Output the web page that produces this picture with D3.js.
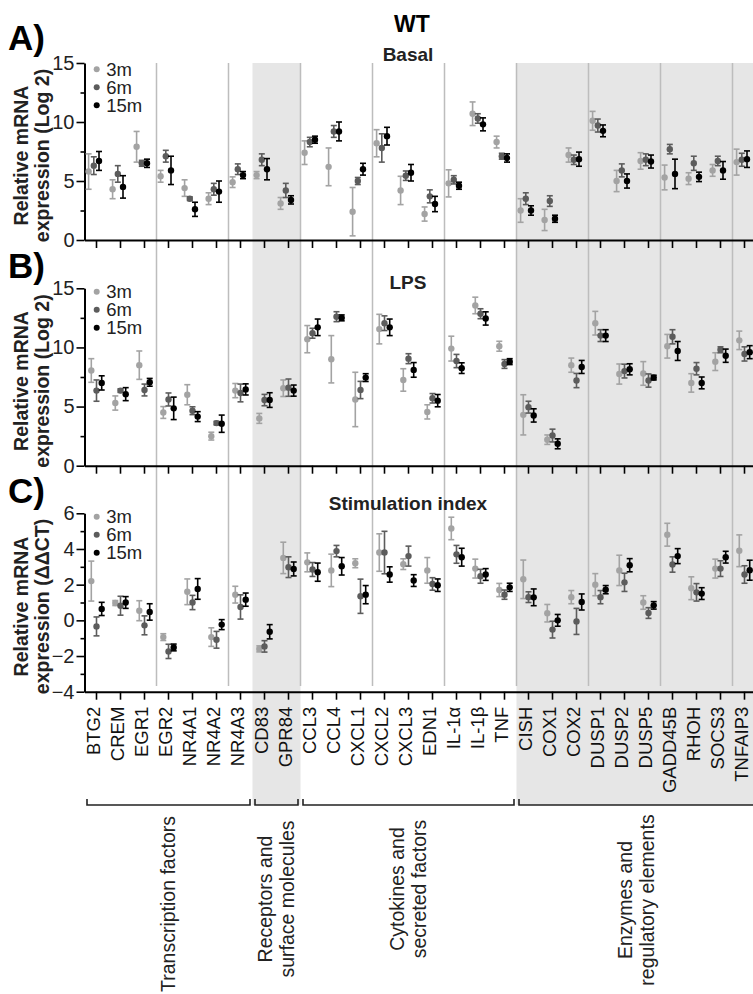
<!DOCTYPE html>
<html>
<head>
<meta charset="utf-8">
<script src="https://cdn.jsdelivr.net/npm/d3@7"></script>
<style>
    body { margin: 0; background: #fff; }
    text { font-family: "Liberation Sans", Arial, sans-serif; }
</style>
</head>
<body>
<div class="chart-container"></div>
<script>
// genes on the x axis
const genes = ["BTG2", "CREM", "EGR1", "EGR2", "NR4A1", "NR4A2", "NR4A3", "CD83", "GPR84",
    "CCL3", "CCL4", "CXCL1", "CXCL2", "CXCL3", "EDN1", "IL-1α", "IL-1β", "TNF",
    "CISH", "COX1", "COX2", "DUSP1", "DUSP2", "DUSP5", "GADD45B", "RHOH", "SOCS3", "TNFAIP3"];
const timepoints = ["3m", "6m", "15m"];

// A) Basal
const basal3m = [5.8, 4.3, 7.9, 5.4, 4.4, 3.5, 4.9, 5.5, 3.1, 7.4, 6.2, 2.4, 8.2, 4.2, 2.2, 4.8, 10.7, 8.3, 2.5, 1.7, 7.2, 10.1, 5.0, 6.7, 5.3, 5.2, 5.9, 6.6];
const basal3mErr = [1.5, 0.8, 1.3, 0.5, 0.7, 0.5, 0.45, 0.3, 0.5, 1.0, 1.6, 2.05, 1.15, 1.2, 0.6, 1.15, 1.0, 0.5, 1.0, 0.9, 0.6, 0.8, 0.9, 0.7, 1.05, 0.5, 0.5, 1.1];
const basal6m = [6.3, 5.6, 6.5, 7.1, 3.5, 4.3, 6.0, 6.8, 4.2, 8.3, 9.2, 5.0, 7.8, 5.45, 3.7, 5.1, 10.3, 7.1, 3.5, 3.3, 6.8, 9.7, 5.9, 6.8, 7.7, 6.5, 6.7, 6.8];
const basal6mErr = [0.75, 0.7, 0.25, 0.5, 0.15, 0.5, 0.45, 0.5, 0.6, 0.4, 0.5, 0.3, 1.2, 0.4, 0.55, 0.35, 0.4, 0.25, 0.5, 0.45, 0.4, 0.55, 0.55, 0.5, 0.4, 0.6, 0.4, 0.55];
const basal15m = [6.7, 4.5, 6.5, 5.9, 2.6, 4.1, 5.5, 6.0, 3.4, 8.5, 9.2, 6.0, 8.8, 5.7, 3.05, 4.6, 9.8, 6.95, 2.5, 1.8, 6.85, 9.25, 5.0, 6.65, 5.6, 5.35, 5.9, 6.85];
const basal15mErr = [0.8, 0.95, 0.35, 1.2, 0.6, 0.9, 0.3, 0.9, 0.35, 0.3, 0.8, 0.5, 0.75, 0.7, 0.65, 0.3, 0.55, 0.35, 0.4, 0.3, 0.6, 0.5, 0.6, 0.55, 1.25, 0.4, 0.75, 0.7];

// B) LPS
const lps3m = [8.05, 5.3, 8.5, 4.5, 6.0, 2.5, 6.35, 4.0, 6.55, 10.7, 9.0, 5.6, 11.55, 7.25, 4.55, 9.9, 13.55, 10.1, 4.3, 2.2, 8.5, 12.05, 7.75, 7.8, 10.1, 7.0, 8.8, 10.6];
const lps3mErr = [1.0, 0.6, 1.2, 0.5, 0.85, 0.33, 0.6, 0.42, 0.7, 1.15, 2.0, 2.3, 1.25, 0.95, 0.6, 1.05, 0.7, 0.42, 1.7, 0.4, 0.6, 1.0, 0.85, 1.0, 1.0, 0.78, 0.75, 0.78];
const lps6m = [6.35, 6.35, 6.4, 5.6, 4.65, 3.6, 6.15, 5.55, 6.6, 11.2, 12.6, 6.4, 12.05, 9.05, 5.7, 8.85, 12.85, 8.6, 4.95, 2.55, 7.2, 11.0, 8.0, 7.2, 10.9, 8.2, 9.8, 9.45];
const lps6mErr = [0.9, 0.15, 0.5, 0.55, 0.33, 0.15, 0.75, 0.48, 0.73, 0.42, 0.42, 0.73, 0.62, 0.42, 0.4, 0.56, 0.42, 0.37, 0.5, 0.54, 0.6, 0.5, 0.58, 0.56, 0.6, 0.52, 0.25, 0.6];
const lps15m = [7.0, 6.05, 7.05, 4.85, 4.15, 3.55, 6.45, 5.55, 6.35, 11.7, 12.5, 7.45, 11.7, 8.1, 5.5, 8.25, 12.45, 8.8, 4.25, 1.85, 8.35, 11.0, 8.15, 7.45, 9.7, 7.0, 9.3, 9.6];
const lps15mErr = [0.6, 0.55, 0.33, 0.95, 0.42, 0.73, 0.47, 0.62, 0.47, 0.7, 0.25, 0.33, 0.7, 0.62, 0.52, 0.45, 0.56, 0.25, 0.56, 0.42, 0.55, 0.5, 0.47, 0.2, 0.8, 0.5, 0.56, 0.55];

// C) Stimulation index
const stim3m = [2.2, 0.97, 0.54, -0.94, 1.6, -0.94, 1.44, -1.6, 3.5, 3.25, 2.8, 3.2, 3.8, 3.15, 2.8, 5.15, 2.9, 1.7, 2.3, 0.4, 1.3, 2.0, 2.8, 1.0, 4.8, 1.8, 2.9, 3.9];
const stim3mErr = [1.12, 0.14, 0.56, 0.19, 0.72, 0.52, 0.47, 0.17, 0.88, 0.53, 0.91, 0.25, 1.05, 0.3, 0.72, 0.63, 0.53, 0.37, 1.08, 0.49, 0.37, 0.62, 0.85, 0.38, 0.64, 0.64, 0.53, 0.89];
const stim6m = [-0.34, 0.82, -0.28, -1.74, 1.0, -1.09, 0.75, -1.46, 2.98, 2.85, 3.88, 1.35, 3.8, 3.6, 2.04, 3.7, 2.47, 1.44, 1.3, -0.52, -0.06, 1.3, 2.13, 0.41, 3.13, 1.57, 2.9, 2.57];
const stim6mErr = [0.53, 0.53, 0.53, 0.4, 0.4, 0.47, 0.68, 0.32, 0.58, 0.39, 0.32, 0.96, 1.19, 0.56, 0.35, 0.5, 0.39, 0.26, 0.3, 0.47, 0.73, 0.37, 0.51, 0.3, 0.43, 0.49, 0.44, 0.49];
const stim15m = [0.64, 1.0, 0.47, -1.52, 1.76, -0.24, 1.16, -0.64, 2.88, 2.7, 3.03, 1.44, 2.57, 2.23, 1.97, 3.54, 2.57, 1.85, 1.29, 0.0, 1.03, 1.72, 3.09, 0.84, 3.6, 1.5, 3.54, 2.81];
const stim15mErr = [0.37, 0.33, 0.46, 0.19, 0.58, 0.28, 0.37, 0.4, 0.39, 0.51, 0.49, 0.51, 0.43, 0.33, 0.35, 0.5, 0.33, 0.23, 0.47, 0.33, 0.45, 0.23, 0.37, 0.21, 0.42, 0.33, 0.33, 0.56];

// y ticks
const logTicks = [0, 5, 10, 15];
const logMinorTicks = [2.5, 7.5, 12.5];
const ddctTicks = [-4, -2, 0, 2, 4, 6];
const ddctMinorTicks = [-3, -1, 1, 3, 5];

// gene groups (first gene, last gene, label lines)
const groups = [
    { from: "BTG2", to: "NR4A3", lines: ["Transcription factors"], cy: 904 },
    { from: "CD83", to: "GPR84", lines: ["Receptors and", "surface molecules"], cy: 899 },
    { from: "CCL3", to: "TNF", lines: ["Cytokines and", "secreted factors"], cy: 889 },
    { from: "CISH", to: "TNFAIP3", lines: ["Enzymes and", "regulatory elements"], cy: 900 },
];

const width = 753;
const height = 994;
const plotTop = 63;
const bracketY = 805;

const svg = d3
    .select(".chart-container")
    .append("svg")
    .attr("width", width)
    .attr("height", height);

const xScale = d3
    .scaleBand()
    .domain(genes)
    .range([84.5, 84.5 + genes.length * 24.0]);
const bw = xScale.bandwidth();
const cx = (g) => xScale(g) + bw / 2;

const offset = d3.scalePoint().domain(timepoints).range([-5.2, 5.2]);
const color = d3.scaleOrdinal().domain(timepoints).range(["#a3a3a3", "#5c5c5c", "#000000"]);

const panels = [
    {
        letter: "A)", title: "Basal", titleY: 60.5, letterY: 50,
        y: d3.scaleLinear().domain([0, 15]).range([240, 63]),
        ticks: logTicks, minor: logMinorTicks, shift: -2.7, legendOff: 6.3,
        ylab: ["Relative mRNA", "expression (Log 2)"],
        series: [[basal3m, basal3mErr], [basal6m, basal6mErr], [basal15m, basal15mErr]],
    },
    {
        letter: "B)", title: "LPS", titleY: 289, letterY: 278,
        y: d3.scaleLinear().domain([0, 15]).range([465.7, 288.3]),
        ticks: logTicks, minor: logMinorTicks, shift: 0, legendOff: 3.4,
        ylab: ["Relative mRNA", "expression (Log 2)"],
        series: [[lps3m, lps3mErr], [lps6m, lps6mErr], [lps15m, lps15mErr]],
    },
    {
        letter: "C)", title: "Stimulation index", titleY: 510, letterY: 503,
        y: d3.scaleLinear().domain([-4, 6]).range([691.7, 513.3]),
        ticks: ddctTicks, minor: ddctMinorTicks, shift: 0, legendOff: 3.4,
        ylab: ["Relative mRNA", "expression (ΔΔCT)"],
        series: [[stim3m, stim3mErr], [stim6m, stim6mErr], [stim15m, stim15mErr]],
    },
];

// shaded gene families
const bg = svg.append("g");
bg.append("rect")
    .attr("x", xScale("CD83"))
    .attr("y", plotTop)
    .attr("width", xScale("CCL3") - xScale("CD83"))
    .attr("height", bracketY - plotTop)
    .attr("fill", "#e6e6e6");
bg.append("rect")
    .attr("x", xScale("CISH"))
    .attr("y", plotTop)
    .attr("width", width - xScale("CISH"))
    .attr("height", bracketY - plotTop)
    .attr("fill", "#e6e6e6");

// vertical separators every three genes
const sepGenes = ["EGR2", "NR4A3", "CCL3", "CXCL2", "IL-1α", "CISH", "DUSP1", "GADD45B", "TNFAIP3"];
bg.selectAll("line")
    .data(sepGenes)
    .join("line")
    .attr("x1", (d) => xScale(d))
    .attr("x2", (d) => xScale(d))
    .attr("y1", plotTop)
    .attr("y2", 686)
    .attr("stroke", "#bdbdbd")
    .attr("stroke-width", 1.5);

// title
svg.append("text")
    .attr("x", 412)
    .attr("y", 31.5)
    .attr("text-anchor", "middle")
    .style("font-size", "23px")
    .style("font-weight", "bold")
    .text("WT");

panels.forEach((p, pi) => {
    const g = svg.append("g");
    const y = p.y;
    const y0 = y.range()[0];

    // x axis
    const xAxis = d3.axisBottom(xScale).tickSize(8).tickSizeOuter(0).tickPadding(2);
    const xg = g.append("g")
        .attr("transform", `translate(0,${y0})`)
        .call(xAxis);
    xg.select(".domain").attr("stroke-width", 2);
    xg.selectAll(".tick line").attr("stroke-width", 1.6);
    if (pi < 2) {
        xg.selectAll(".tick text").remove();
    } else {
        xg.selectAll(".tick text")
            .attr("x", 0)
            .attr("y", 0)
            .attr("dy", "0.35em")
            .attr("transform", "translate(-2.5,15) rotate(-90)")
            .attr("text-anchor", "end")
            .style("font-size", "18.5px")
            .style("font-family", "'Liberation Sans', Arial, sans-serif")
            .attr("fill", "#111");
    }

    // y axis
    const yAxis = d3.axisLeft(y).tickValues(p.ticks).tickSize(8).tickSizeOuter(0).tickPadding(2);
    const yg = g.append("g")
        .attr("transform", "translate(84.5,0)")
        .call(yAxis);
    yg.select(".domain").attr("stroke-width", 2);
    yg.selectAll(".tick line").attr("stroke-width", 1.6);
    yg.selectAll(".tick text")
        .style("font-size", "20px")
        .style("font-family", "'Liberation Sans', Arial, sans-serif")
        .attr("fill", "#222");

    const yMinor = d3.axisLeft(y).tickValues(p.minor).tickSize(4).tickFormat("");
    const ym = g.append("g")
        .attr("transform", "translate(84.5,0)")
        .call(yMinor);
    ym.select(".domain").remove();
    ym.selectAll(".tick line").attr("stroke-width", 1.6);

    // y axis title
    const cy = (y.range()[0] + y.range()[1]) / 2 + 4;
    g.selectAll(".ylab")
        .data(p.ylab)
        .join("text")
        .attr("class", "ylab")
        .attr("transform", (d, i) => `translate(${21 + i * 21},${cy}) rotate(-90)`)
        .attr("dy", "0.35em")
        .attr("text-anchor", "middle")
        .style("font-size", "19.5px")
        .style("font-weight", "bold")
        .attr("fill", "#222")
        .text((d) => d);

    // panel letter and subtitle
    g.append("text")
        .attr("x", 8)
        .attr("y", p.letterY)
        .style("font-size", "35px")
        .style("font-weight", "bold")
        .text(p.letter);
    g.append("text")
        .attr("x", 408)
        .attr("y", p.titleY)
        .attr("text-anchor", "middle")
        .style("font-size", "19px")
        .style("font-weight", "bold")
        .attr("fill", "#222")
        .text(p.title);

    // legend
    const top = y.range()[1];
    const leg = g.append("g")
        .selectAll("g")
        .data(timepoints)
        .join("g")
        .attr("transform", (d, i) => `translate(96.7,${top + p.legendOff + i * 18})`);
    leg.append("circle").attr("r", 3).attr("fill", (d) => color(d));
    leg.append("text")
        .attr("x", 9.5)
        .attr("dy", "0.35em")
        .style("font-size", "18.5px")
        .attr("fill", "#222")
        .text((d) => d);

    // error bars and points
    timepoints.forEach((t, ti) => {
        const [means, errs] = p.series[ti];
        const pts = genes.map((gene, i) => ({ gene, m: means[i], e: errs[i] }));
        const px = (d) => cx(d.gene) + offset(t) + p.shift;
        const s = g.append("g")
            .attr("stroke", color(t))
            .attr("fill", color(t))
            .attr("stroke-width", 1.6);
        const bars = s.selectAll("g")
            .data(pts)
            .join("g");
        bars.append("line")
            .attr("x1", px).attr("x2", px)
            .attr("y1", (d) => y(d.m - d.e))
            .attr("y2", (d) => y(d.m + d.e));
        bars.append("line")
            .attr("x1", (d) => px(d) - 3).attr("x2", (d) => px(d) + 3)
            .attr("y1", (d) => y(d.m + d.e)).attr("y2", (d) => y(d.m + d.e));
        bars.append("line")
            .attr("x1", (d) => px(d) - 3).attr("x2", (d) => px(d) + 3)
            .attr("y1", (d) => y(d.m - d.e)).attr("y2", (d) => y(d.m - d.e));
        bars.append("circle")
            .attr("cx", px)
            .attr("cy", (d) => y(d.m))
            .attr("r", 3.2)
            .attr("stroke", "none");
    });
});

// group brackets
const br = svg.append("g").attr("stroke", "#222").attr("stroke-width", 1.6).attr("fill", "none");
groups.forEach((gr) => {
    const x1 = xScale(gr.from) + 2.5;
    const x2 = Math.min(xScale(gr.to) + bw - 2.5, width + 5);
    br.append("path")
        .attr("d", `M${x1},${bracketY - 6}V${bracketY}H${x2}V${bracketY - 6}`);
    const mid = (cx(gr.from) + cx(gr.to)) / 2;
    const n = gr.lines.length;
    svg.selectAll(null)
        .data(gr.lines)
        .join("text")
        .attr("transform", (d, i) => `translate(${mid + (i - (n - 1) / 2) * 22},${gr.cy}) rotate(-90)`)
        .attr("dy", "0.35em")
        .attr("text-anchor", "middle")
        .style("font-size", "19.5px")
        .attr("fill", "#222")
        .text((d) => d);
});
</script>
</body>
</html>
